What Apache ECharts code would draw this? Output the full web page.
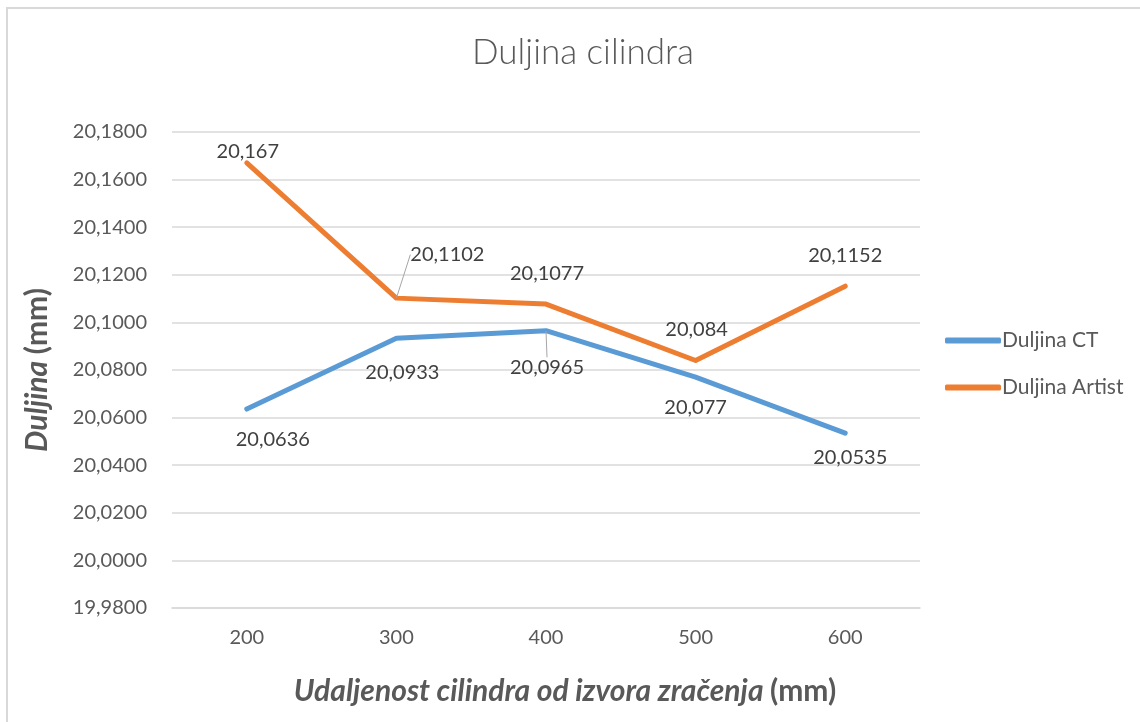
<!DOCTYPE html>
<html>
<head>
<meta charset="utf-8">
<script src="https://cdn.jsdelivr.net/npm/echarts@6/dist/echarts.min.js"></script>
<style>
  html, body { margin: 0; padding: 0; background: #fff; }
  #chart { width: 1140px; height: 722px; }
</style>
</head>
<body>
<div id="chart"></div>
<script>
var distances = ['200', '300', '400', '500', '600']
var duljinaCT = [20.0636, 20.0933, 20.0965, 20.077, 20.0535]
var duljinaArtist = [20.167, 20.1102, 20.1077, 20.084, 20.1152]
var ctLabels = ['20,0636', '20,0933', '20,0965', '20,077', '20,0535']
var artistLabels = ['20,167', '20,1102', '20,1077', '20,084', '20,1152']

// label nudges, [dx, dy] in px, to sit where Excel put them
var ctShift = [[26, 0], [6, 4], [1, 6], [0, 0], [5, -6]]
var artistShift = [[1, 19], [51, -13], [1, 0], [1, 0], [0, 0]]

var grey = '#595959'
var fontFamily = 'Lato, "Open Sans", sans-serif'

var chart = echarts.init(document.getElementById('chart'))

function withLeader(values, leaders) {
  return values.map(function(v, i) {
    return leaders[i] ? { value: v, labelLine: { show: true } } : v
  })
}

chart.setOption({
  backgroundColor: '#fff',
  textStyle: { fontFamily: fontFamily },
  graphic: [{
    type: 'rect',
    shape: { x: 7, y: 8, width: 1200, height: 800 },
    style: { fill: 'none', stroke: '#D9D9D9', lineWidth: 2 },
    silent: true
  }],
  title: {
    text: 'Duljina cilindra',
    left: 578,
    top: 30,
    textAlign: 'center',
    textStyle: { color: grey, fontSize: 35, fontWeight: 300, fontFamily: fontFamily }
  },
  legend: {
    orient: 'vertical',
    left: 940,
    top: 325,
    itemGap: 26,
    itemWidth: 56,
    itemHeight: 6,
    icon: 'roundRect',
    textStyle: { color: grey, fontSize: 21, padding: [0, 0, 0, -4] },
    data: ['Duljina CT', 'Duljina Artist']
  },
  grid: { left: 172, right: 220, top: 132, bottom: 114 },
  xAxis: {
    type: 'category',
    data: distances,
    axisLine: { lineStyle: { color: '#D9D9D9', width: 1.5 } },
    axisTick: { show: false },
    axisLabel: { color: grey, fontSize: 20, margin: 20 },
    name: '{i|Udaljenost cilindra od izvora zračenja }{b|(mm)}',
    nameLocation: 'middle',
    nameGap: 68,
    nameTextStyle: {
      padding: [0, 0, 0, 38],
      rich: {
        i: { fontSize: 30, fontWeight: 'bold', fontStyle: 'italic', color: grey },
        b: { fontSize: 30, fontWeight: 'bold', color: grey }
      }
    }
  },
  yAxis: {
    type: 'value',
    min: 19.98,
    max: 20.18,
    interval: 0.02,
    axisLine: { show: false },
    axisTick: { show: false },
    splitLine: { lineStyle: { color: '#D9D9D9', width: 1.5 } },
    axisLabel: {
      color: grey,
      fontSize: 20,
      margin: 25,
      formatter: function(v) { return v.toFixed(4).replace('.', ',') }
    },
    name: '{i|Duljina }{b|(mm)}',
    nameLocation: 'middle',
    nameGap: 120,
    nameRotate: 90,
    nameTextStyle: {
      rich: {
        i: { fontSize: 30, fontWeight: 'bold', fontStyle: 'italic', color: grey },
        b: { fontSize: 30, fontWeight: 'bold', color: grey }
      }
    }
  },
  series: [{
    name: 'Duljina CT',
    type: 'line',
    data: withLeader(duljinaCT, [false, false, true, false, false]),
    color: '#5B9BD5',
    lineStyle: { width: 5, cap: 'round', join: 'round' },
    symbol: 'circle',
    symbolSize: 1,
    showAllSymbol: true,
    label: {
      show: true,
      position: 'bottom',
      distance: 20,
      color: '#404040',
      fontSize: 20,
      formatter: function(p) { return ctLabels[p.dataIndex] }
    },
    labelLine: { lineStyle: { color: '#A6A6A6', width: 1 } },
    labelLayout: function(p) {
      return { dx: ctShift[p.dataIndex][0], dy: ctShift[p.dataIndex][1] }
    }
  }, {
    name: 'Duljina Artist',
    type: 'line',
    data: withLeader(duljinaArtist, [false, true, false, false, false]),
    color: '#ED7D31',
    lineStyle: { width: 5, cap: 'round', join: 'round' },
    symbol: 'circle',
    symbolSize: 1,
    showAllSymbol: true,
    label: {
      show: true,
      position: 'top',
      distance: 20,
      color: '#404040',
      fontSize: 20,
      formatter: function(p) { return artistLabels[p.dataIndex] }
    },
    labelLine: { lineStyle: { color: '#A6A6A6', width: 1 } },
    labelLayout: function(p) {
      return { dx: artistShift[p.dataIndex][0], dy: artistShift[p.dataIndex][1] }
    }
  }]
})
</script>
</body>
</html>
